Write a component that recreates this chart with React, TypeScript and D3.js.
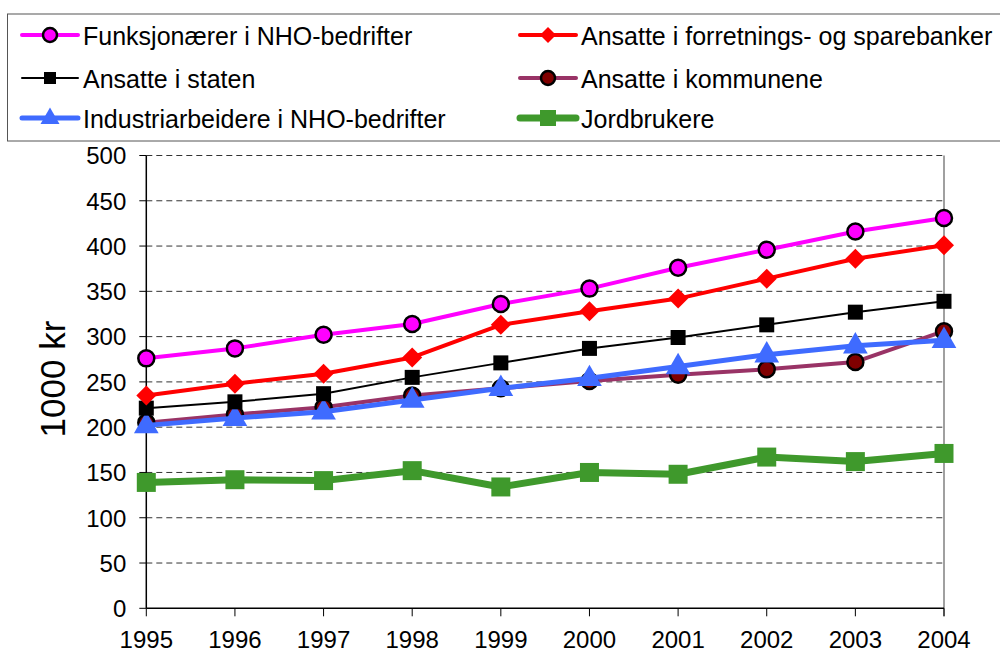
import React from "react";
import * as d3 from "d3";

const years = [1995, 1996, 1997, 1998, 1999, 2000, 2001, 2002, 2003, 2004];
const funksjonaerer = [276, 287, 302, 314, 336, 353, 376, 396, 416, 431];
const banker = [235, 248, 259, 277, 313, 328, 342, 364, 386, 401];
const staten = [221, 228, 237, 255, 271, 287, 299, 313, 327, 339];
const kommunene = [205, 214, 222, 235, 243, 251, 258, 264, 272, 306];
const industri = [202, 210, 217, 230, 243, 254, 267, 280, 290, 296];
const jordbrukere = [139, 142, 141, 152, 134, 150, 148, 167, 162, 171];
const yTicks = [0, 50, 100, 150, 200, 250, 300, 350, 400, 450, 500];

type Marker = "circle" | "diamond" | "square" | "triangle";
const series: { name: string; values: number[]; line: string; lw: number; marker: Marker; fill: string; stroke: string; size: number; legendSize: number }[] = [
  { name: "Funksjonærer i NHO-bedrifter", values: funksjonaerer, line: "#FF00FF", lw: 4, marker: "circle", fill: "#FF00FF", stroke: "#000", size: 8, legendSize: 7 },
  { name: "Ansatte i forretnings- og sparebanker", values: banker, line: "#FF0000", lw: 4, marker: "diamond", fill: "#FF0000", stroke: "none", size: 10, legendSize: 8 },
  { name: "Ansatte i staten", values: staten, line: "#000000", lw: 2, marker: "square", fill: "#000000", stroke: "none", size: 7.5, legendSize: 6 },
  { name: "Ansatte i kommunene", values: kommunene, line: "#993366", lw: 4, marker: "circle", fill: "#800000", stroke: "#000", size: 8, legendSize: 7 },
  { name: "Industriarbeidere i NHO-bedrifter", values: industri, line: "#3F6BFF", lw: 5, marker: "triangle", fill: "#3F6BFF", stroke: "none", size: 13, legendSize: 10 },
  { name: "Jordbrukere", values: jordbrukere, line: "#3F992C", lw: 7, marker: "square", fill: "#3F992C", stroke: "none", size: 9.5, legendSize: 8 },
];

const plotOrder = [5, 3, 4, 2, 1, 0];

const L = 146.3, R = 944, T = 155.5, B = 608.3;

function markerPath(m: Marker, s: number): string {
  if (m === "diamond") return `M0,${-s}L${s},0L0,${s}L${-s},0Z`;
  if (m === "square") return `M${-s},${-s}H${s}V${s}H${-s}Z`;
  if (m === "triangle") return `M0,${-s * 1.05}L${s * 0.95},${s * 0.6}L${-s * 0.95},${s * 0.6}Z`;
  return "";
}

function MarkerShape({ s, x, y, size }: { s: (typeof series)[number]; x: number; y: number; size: number }) {
  if (s.marker === "circle")
    return <circle cx={x} cy={y} r={size} fill={s.fill} stroke={s.stroke} strokeWidth={2.5} />;
  return <path d={markerPath(s.marker, size)} transform={`translate(${x},${y})`} fill={s.fill} />;
}

export default function App() {
  const x = d3.scalePoint<number>().domain(years).range([L, R]);
  const y = d3.scaleLinear().domain([0, 500]).range([B, T]);
  const line = d3.line<number>().x((_, i) => x(years[i])!).y((d) => y(d));
  const font = "'Liberation Sans', Arial, sans-serif";

  const legendPos = [
    { lx: 22, ly: 35 },
    { lx: 520, ly: 35 },
    { lx: 22, ly: 78 },
    { lx: 520, ly: 78 },
    { lx: 22, ly: 118 },
    { lx: 520, ly: 118 },
  ];

  return (
    <svg width={1000} height={654} style={{ position: "absolute", left: 0, top: 0, background: "#fff" }} fontFamily={font}>
      <rect x={0} y={0} width={1000} height={654} fill="#fff" />
      {/* legend */}
      <rect x={7.5} y={14} width={1000} height={127} fill="#fff" stroke="#555" strokeWidth={1} />
      {series.map((s, i) => {
        const p = legendPos[i];
        return (
          <g key={s.name}>
            <line x1={p.lx} x2={p.lx + 56} y1={p.ly} y2={p.ly} stroke={s.line} strokeWidth={s.lw} strokeLinecap="round" />
            <MarkerShape s={s} size={s.legendSize} x={p.lx + 28} y={p.ly} />
            <text x={p.lx + 61} y={p.ly + 9.5} fontSize={25} fill="#000">{s.name}</text>
          </g>
        );
      })}
      {/* grid */}
      {yTicks.filter((t) => t > 0).map((t) => (
        <line key={t} x1={L} x2={R} y1={y(t)} y2={y(t)} stroke="#333" strokeWidth={1} strokeDasharray="6,4" />
      ))}
      <line x1={R} x2={R} y1={T} y2={B + 8} stroke="#808080" strokeWidth={1.5} />
      {/* axes */}
      <line x1={L} x2={L} y1={T} y2={B} stroke="#000" strokeWidth={1.5} />
      <line x1={L} x2={R} y1={B} y2={B} stroke="#000" strokeWidth={1.5} />
      {yTicks.map((t) => (
        <g key={t}>
          <line x1={L - 7} x2={L} y1={y(t)} y2={y(t)} stroke="#000" strokeWidth={1} />
          <text x={L - 20} y={y(t) + 8.8} fontSize={24} textAnchor="end" fill="#000">{t}</text>
        </g>
      ))}
      {years.map((yr) => (
        <g key={yr}>
          <line x1={x(yr)} x2={x(yr)} y1={B} y2={B + 8} stroke="#000" strokeWidth={1} />
          <text x={x(yr)} y={648} fontSize={24} textAnchor="middle" fill="#000">{yr}</text>
        </g>
      ))}
      <text transform={`translate(65,379) rotate(-90)`} fontSize={35} textAnchor="middle" fill="#000">1000 kr</text>
      {/* series */}
      {plotOrder.map((idx) => {
        const s = series[idx];
        return (
          <g key={s.name}>
            <path d={line(s.values) || ""} fill="none" stroke={s.line} strokeWidth={s.lw} strokeLinejoin="round" />
            {s.values.map((v, i) => (
              <MarkerShape key={i} s={s} size={s.size} x={x(years[i])!} y={y(v)} />
            ))}
          </g>
        );
      })}
    </svg>
  );
}
